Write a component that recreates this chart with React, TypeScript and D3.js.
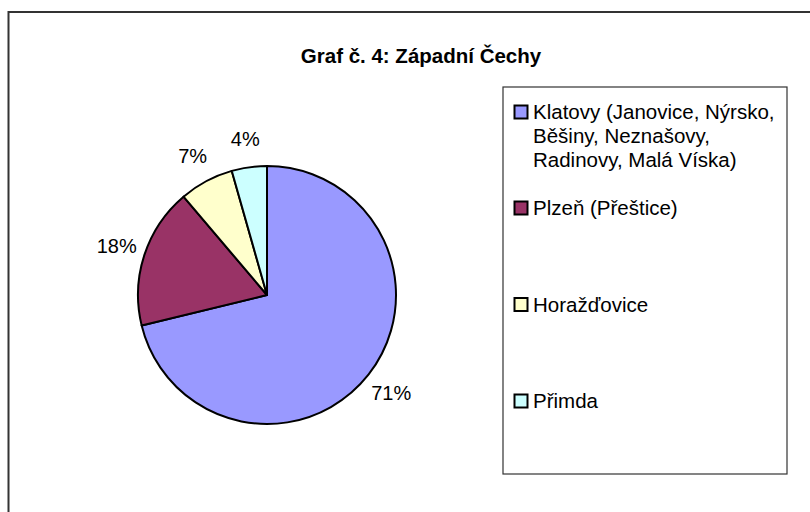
import React from "react";
import * as d3 from "d3";

const title = "Graf č. 4: Západní Čechy";
const categories = [
  "Klatovy (Janovice, Nýrsko, Běšiny, Neznašovy, Radinovy, Malá Víska)",
  "Plzeň (Přeštice)",
  "Horažďovice",
  "Přimda",
];
const legendLines = [
  ["Klatovy (Janovice, Nýrsko,", "Běšiny, Neznašovy,", "Radinovy, Malá Víska)"],
  ["Plzeň (Přeštice)"],
  ["Horažďovice"],
  ["Přimda"],
];
const values = [71.2, 17.6, 6.8, 4.4];
const colors = ["#9999FF", "#993366", "#FFFFCC", "#CCFFFF"];

const W = 810;
const H = 512;
const FONT = "'Liberation Sans', Arial, sans-serif";

export default function App() {
  const cx = 267;
  const cy = 295;
  const r = 129;
  const total = d3.sum(values);
  const pie = d3
    .pie<number>()
    .sort(null)
    .value((d) => d)
    .startAngle(0)
    .endAngle(2 * Math.PI);
  const arcs = pie(values);
  const arc = d3.arc<d3.PieArcDatum<number>>().innerRadius(0).outerRadius(r);
  const labelR = r + 29;

  const legendX = 503;
  const legendY = 87;
  const legendW = 284;
  const legendH = 387;
  const entryBaselines = [119, 215, 311.5, 408];

  return (
    <svg
      width={W}
      height={H}
      style={{ position: "absolute", left: 0, top: 0, display: "block" }}
      fontFamily={FONT}
    >
      <rect x={0} y={0} width={W} height={H} fill="#fff" />
      <rect
        x={8.5}
        y={12}
        width={W + 20}
        height={H + 20}
        fill="none"
        stroke="#333"
        strokeWidth={2}
      />
      <text
        x={421}
        y={63}
        textAnchor="middle"
        fontWeight="bold"
        fontSize={20.5}
        fill="#000"
      >
        {title}
      </text>
      <g transform={`translate(${cx},${cy})`}>
        {arcs.map((a, i) => (
          <path
            key={categories[i]}
            d={arc(a) || ""}
            fill={colors[i]}
            stroke="#000"
            strokeWidth={2}
            strokeLinejoin="round"
          />
        ))}
        {arcs.map((a, i) => {
          const mid = (a.startAngle + a.endAngle) / 2;
          const x = Math.sin(mid) * labelR;
          const y = -Math.cos(mid) * labelR;
          return (
            <text
              key={"l" + i}
              x={x}
              y={y}
              textAnchor="middle"
              dominantBaseline="central"
              fontSize={20}
              fill="#000"
            >
              {Math.round((values[i] / total) * 100)}%
            </text>
          );
        })}
      </g>
      <rect
        x={legendX}
        y={legendY}
        width={legendW}
        height={legendH}
        fill="#fff"
        stroke="#333"
        strokeWidth={1.2}
      />
      {legendLines.map((lines, i) => (
        <g key={"lg" + i}>
          <rect
            x={514.5}
            y={entryBaselines[i] - 13.5}
            width={13}
            height={13}
            fill={colors[i]}
            stroke="#000"
            strokeWidth={2}
          />
          <text x={533} y={entryBaselines[i]} fontSize={20.5} fill="#000">
            {lines.map((ln, j) => (
              <tspan key={j} x={533} y={entryBaselines[i] + j * 24}>
                {ln}
              </tspan>
            ))}
          </text>
        </g>
      ))}
    </svg>
  );
}
